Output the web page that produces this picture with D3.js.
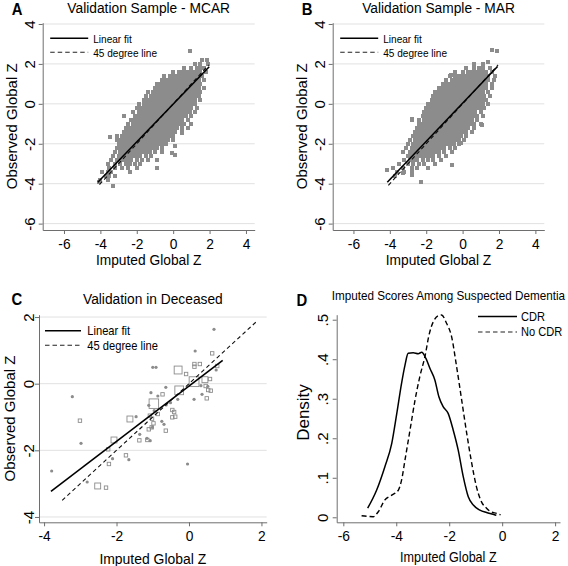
<!DOCTYPE html>
<html><head><meta charset="utf-8">
<script src="https://cdn.jsdelivr.net/npm/d3@7"></script>
<style>
body{margin:0;background:#fff}
svg{display:block}
text{font-family:"Liberation Sans",Arial,Helvetica,sans-serif;fill:#000}
</style>
</head><body>
<svg id="c" width="568" height="566"></svg>
<script>
// ---------------- DATA ----------------
const scatterXTicks = [-6,-4,-2,0,2,4];
const scatterYTicks = [-6,-4,-2,0,2,4];
const deceasedXTicks = [-4,-2,0,2];
const deceasedYTicks = [-4,-2,0,2];
const densityXTicks = [-6,-4,-2,0,2];
const densityYTicks = [0,0.1,0.2,0.3,0.4,0.5];
const densityYTickLabels = ["0",".1",".2",".3",".4",".5"];

const panelTitles = ["Validation Sample - MCAR","Validation Sample - MAR","Validation in Deceased","Imputed Scores Among Suspected Dementia"];
const panelLetters = ["A","B","C","D"];
const xTitle = "Imputed Global Z";
const yTitles = ["Observed Global Z","Observed Global Z","Observed Global Z","Density"];
const fitLegend = ["Linear fit","45 degree line"];
const densityLegend = ["CDR","No CDR"];

// Panel A (MCAR): rows of observed Z with imputed Z values
const mcarRows = [
 [2.2,[1.6,1.85]],
 [2.0,[1.2,1.5,1.9]],
 [1.8,[0.6,1.0,1.3,1.5,1.7]],
 [1.6,[0.0,0.3,0.5,0.7,0.9,1.1,1.3,1.5,1.8]],
 [1.4,[-0.5,-0.2,0.0,0.2,0.4,0.6,0.8,1.0,1.2,1.4,1.6]],
 [1.2,[-0.6,-0.4,-0.2,0.0,0.2,0.4,0.6,0.8,1.0,1.2,1.4,1.7]],
 [1.0,[-0.9,-0.7,-0.5,-0.3,-0.1,0.1,0.3,0.5,0.7,0.9,1.1,1.3,1.5]],
 [0.8,[-1.0,-0.8,-0.6,-0.4,-0.2,0.0,0.2,0.4,0.6,0.8,1.0,1.2,1.4,1.7]],
 [0.6,[-1.4,-1.1,-0.9,-0.7,-0.5,-0.3,-0.1,0.1,0.3,0.5,0.7,0.9,1.1,1.3,1.5]],
 [0.4,[-1.5,-1.2,-1.0,-0.8,-0.6,-0.4,-0.2,0.0,0.2,0.4,0.6,0.8,1.0,1.2,1.4]],
 [0.2,[-1.6,-1.4,-1.2,-1.0,-0.8,-0.6,-0.4,-0.2,0.0,0.2,0.4,0.6,0.8,1.0,1.2,1.5]],
 [0.0,[-1.9,-1.6,-1.4,-1.2,-1.0,-0.8,-0.6,-0.4,-0.2,0.0,0.2,0.4,0.6,0.8,1.0,1.2]],
 [-0.2,[-2.0,-1.8,-1.6,-1.4,-1.2,-1.0,-0.8,-0.6,-0.4,-0.2,0.0,0.2,0.4,0.6,0.8,1.0,1.3]],
 [-0.4,[-2.2,-1.9,-1.7,-1.5,-1.3,-1.1,-0.9,-0.7,-0.5,-0.3,-0.1,0.1,0.3,0.5,0.7,0.9,1.2]],
 [-0.6,[-2.7,-2.1,-1.9,-1.7,-1.5,-1.3,-1.1,-0.9,-0.7,-0.5,-0.3,-0.1,0.1,0.3,0.5,0.7,1.0]],
 [-0.8,[-2.3,-2.1,-1.9,-1.7,-1.5,-1.3,-1.1,-0.9,-0.7,-0.5,-0.3,-0.1,0.1,0.3,0.5,0.8]],
 [-1.0,[-2.5,-2.2,-2.0,-1.8,-1.6,-1.4,-1.2,-1.0,-0.8,-0.6,-0.4,-0.2,0.0,0.2,0.4,0.6,1.0]],
 [-1.2,[-2.6,-2.4,-2.2,-2.0,-1.8,-1.6,-1.4,-1.2,-1.0,-0.8,-0.6,-0.4,-0.2,0.0,0.2,0.5,0.8]],
 [-1.4,[-2.7,-2.5,-2.3,-2.1,-1.9,-1.7,-1.5,-1.3,-1.1,-0.9,-0.7,-0.5,-0.3,-0.1,0.1,0.5]],
 [-1.6,[-3.1,-2.8,-2.6,-2.4,-2.2,-2.0,-1.8,-1.6,-1.4,-1.2,-1.0,-0.8,-0.6,-0.4,-0.2,0.0]],
 [-1.8,[-3.1,-2.9,-2.7,-2.5,-2.3,-2.1,-1.9,-1.7,-1.5,-1.3,-1.1,-0.9,-0.7,-0.5,-0.3,0.0]],
 [-2.0,[-3.0,-2.8,-2.6,-2.4,-2.2,-2.0,-1.8,-1.6,-1.4,-1.2,-1.0,-0.8,-0.6,-0.4]],
 [-2.2,[-3.1,-2.9,-2.7,-2.5,-2.3,-2.1,-1.9,-1.7,-1.5,-1.3,-1.1,-0.9,-0.6]],
 [-2.4,[-3.2,-2.9,-2.7,-2.5,-2.3,-2.1,-1.9,-1.7,-1.5,-1.3,-1.0,-0.6]],
 [-2.6,[-3.3,-3.0,-2.8,-2.6,-2.4,-2.2,-2.0,-1.8,-1.5,-1.2]],
 [-2.8,[-3.4,-3.1,-2.9,-2.7,-2.5,-2.3,-2.0,-1.7,-1.4]],
 [-3.0,[-3.6,-3.2,-2.9,-2.6,-2.4,-2.1,-1.8]],
 [-3.2,[-3.5,-3.2,-2.8,-2.5,-2.0]],
 [-3.4,[-3.9,-3.6,-3.4,-2.4]],
 [-3.6,[-3.7,-3.5,-3.2]],
 [-3.8,[-4.0,-3.6]]
];
const mcarExtra = [[0.93,2.65],[-2.69,-0.63],[-3.46,-1.67],[0.48,-1.13],[0.48,-1.47],[0.11,-2.13],
 [-0.07,-2.47],[0.11,-2.55],[-0.9,-2.8],[-0.9,-3.22],[-3.28,-4.13],[-4.07,-3.93],[-2.0,-1.1]];

// Panel B (MAR)
const marRows = [
 [2.1,[1.4]],
 [2.0,[0.6,1.1]],
 [1.8,[0.2,0.6,0.9,1.1,1.5]],
 [1.6,[-0.4,0.0,0.3,0.5,0.7,0.9,1.1,1.3,1.6]],
 [1.4,[-0.7,-0.4,-0.2,0.0,0.2,0.4,0.6,0.8,1.0,1.2,1.4,1.8]],
 [1.2,[-0.9,-0.6,-0.4,-0.2,0.0,0.2,0.4,0.6,0.8,1.0,1.2,1.4,1.7]],
 [1.0,[-1.1,-0.9,-0.7,-0.5,-0.3,-0.1,0.1,0.3,0.5,0.7,0.9,1.1,1.3,1.6]],
 [0.8,[-1.3,-1.1,-0.9,-0.7,-0.5,-0.3,-0.1,0.1,0.3,0.5,0.7,0.9,1.1,1.3,1.6]],
 [0.6,[-1.5,-1.3,-1.1,-0.9,-0.7,-0.5,-0.3,-0.1,0.1,0.3,0.5,0.7,0.9,1.1,1.4]],
 [0.4,[-1.6,-1.4,-1.2,-1.0,-0.8,-0.6,-0.4,-0.2,0.0,0.2,0.4,0.6,0.8,1.0,1.2,1.5]],
 [0.2,[-1.7,-1.5,-1.3,-1.1,-0.9,-0.7,-0.5,-0.3,-0.1,0.1,0.3,0.5,0.7,0.9,1.1,1.3]],
 [0.0,[-1.9,-1.7,-1.5,-1.3,-1.1,-0.9,-0.7,-0.5,-0.3,-0.1,0.1,0.3,0.5,0.7,0.9,1.1,1.4]],
 [-0.2,[-2.0,-1.8,-1.6,-1.4,-1.2,-1.0,-0.8,-0.6,-0.4,-0.2,0.0,0.2,0.4,0.6,0.8,1.0,1.2]],
 [-0.4,[-2.1,-1.9,-1.7,-1.5,-1.3,-1.1,-0.9,-0.7,-0.5,-0.3,-0.1,0.1,0.3,0.5,0.7,1.0]],
 [-0.6,[-2.2,-2.0,-1.8,-1.6,-1.4,-1.2,-1.0,-0.8,-0.6,-0.4,-0.2,0.0,0.2,0.4,0.6,0.8,1.1]],
 [-0.8,[-2.8,-2.4,-2.1,-1.9,-1.7,-1.5,-1.3,-1.1,-0.9,-0.7,-0.5,-0.3,-0.1,0.1,0.3,0.5,0.8]],
 [-1.0,[-2.4,-2.2,-2.0,-1.8,-1.6,-1.4,-1.2,-1.0,-0.8,-0.6,-0.4,-0.2,0.0,0.2,0.4,0.6,1.0]],
 [-1.2,[-2.5,-2.3,-2.1,-1.9,-1.7,-1.5,-1.3,-1.1,-0.9,-0.7,-0.5,-0.3,-0.1,0.1,0.3,0.6]],
 [-1.4,[-2.6,-2.4,-2.2,-2.0,-1.8,-1.6,-1.4,-1.2,-1.0,-0.8,-0.6,-0.4,-0.2,0.0,0.2,0.5]],
 [-1.6,[-2.7,-2.5,-2.3,-2.1,-1.9,-1.7,-1.5,-1.3,-1.1,-0.9,-0.7,-0.5,-0.3,-0.1,0.2]],
 [-1.8,[-2.9,-2.6,-2.4,-2.2,-2.0,-1.8,-1.6,-1.4,-1.2,-1.0,-0.8,-0.6,-0.4,-0.2,0.1]],
 [-2.0,[-3.0,-2.7,-2.5,-2.3,-2.1,-1.9,-1.7,-1.5,-1.3,-1.1,-0.9,-0.7,-0.5,-0.2]],
 [-2.2,[-3.1,-2.8,-2.6,-2.4,-2.2,-2.0,-1.8,-1.6,-1.4,-1.2,-1.0,-0.7,-0.4]],
 [-2.4,[-3.3,-2.9,-2.7,-2.5,-2.3,-2.1,-1.9,-1.7,-1.5,-1.3,-1.0,-0.6]],
 [-2.6,[-3.0,-2.8,-2.6,-2.4,-2.2,-2.0,-1.8,-1.6,-1.3,-0.9]],
 [-2.8,[-3.2,-2.9,-2.7,-2.5,-2.2,-1.9,-1.6,-1.2]],
 [-3.0,[-3.5,-3.0,-2.7,-2.4,-2.1,-1.5]],
 [-3.2,[-3.8,-3.3,-2.8,-2.5,-1.9]],
 [-3.4,[-3.6,-3.2,-2.8]],
 [-3.6,[-3.7]]
];
const marExtra = [[1.6,2.7],[1.9,2.65],[-4.17,-3.33],[-2.31,-3.93],[-0.57,-3.08],[1.05,-1.05],
 [-2.77,-0.75],[-0.66,1.45],[-2.8,-3.55],[-3.26,-3.47],[-0.11,-1.97]];

// Fitted lines (endpoints) and 45-degree line ranges
const mcarFit = [[-4.14,-3.93],[1.98,1.86]];
const mcarDiagRange = [-4.05,1.95];
const marFit = [[-4.14,-3.93],[1.92,1.87]];
const marDiagRange = [-4.08,1.95];
const deceasedFit = [[-3.81,-3.23],[0.93,0.70]];
const deceasedDiagRange = [-3.5,1.88];

// Panel C: weighted hollow squares [imputed, observed, weight] and small dots
const deceasedHollow = [[-3.01,-1.11,1],[-2.52,-3.07,2],[-2.29,-3.12,1],[-2.23,-1.97,1],[-2.21,-2.41,1],
 [-2.07,-1.69,2],[-1.74,-2.15,1],[-1.63,-1.06,2],[-1.37,-1.70,1],[-1.15,-1.69,1],[-1.11,-1.37,1],
 [-1.03,-1.31,1],[-0.98,-1.19,1],[-1.08,-0.96,1],[-1.02,-1.05,1],[-0.97,-0.60,4],[-0.86,-0.91,1],
 [-0.73,-0.32,1],[-0.64,-1.41,1],[-0.46,-0.79,1],[-0.41,-0.85,1],[-0.38,-0.99,1],[-0.46,-1.01,1],
 [-0.30,0.41,3],[-0.27,-0.20,3.5],[-0.08,0.29,1],[0.14,0.06,4.2],[0.15,0.59,1],[0.15,0.51,1],
 [0.30,0.59,1],[0.44,0.12,2],[0.58,0.14,1],[0.46,-0.07,1],[0.53,-0.19,1],[0.60,-0.21,1],
 [0.49,-0.44,1],[0.64,0.91,1],[0.78,0.53,1]];
const deceasedDots = [[0.69,1.63],[0.17,0.98],[-1.00,0.49],[-0.91,0.49],[-3.22,-0.39],[-2.98,-1.79],
 [-3.79,-2.62],[-2.11,-2.25],[-2.81,-2.95],[-1.66,-2.28],[-1.46,-0.99],[-1.36,-1.52],[-1.07,-1.71],
 [-1.05,-0.27],[-1.11,-0.65],[-0.86,-0.37],[-0.64,-0.11],[0.33,-0.06],[0.36,-0.32],[0.14,-0.47],
 [-0.31,-0.47],[0.75,0.41],[-0.63,-0.64],[-0.51,-0.57],[-0.96,-0.81],[-0.75,-1.13],[-0.69,-1.22],
 [-1.16,-1.64],[-0.04,-2.41],[0.52,-0.08],[-1.01,-1.31]];

// Panel D: kernel densities [imputed Z, density]
const cdrDensity = [[-5.08,0.023],[-4.74,0.069],[-4.43,0.128],[-4.17,0.187],[-3.98,0.263],[-3.80,0.339],
 [-3.67,0.385],[-3.55,0.415],[-3.36,0.4165],[-3.17,0.414],[-3.04,0.4175],[-2.88,0.402],[-2.73,0.377],
 [-2.54,0.347],[-2.39,0.305],[-2.23,0.280],[-2.04,0.263],[-1.85,0.221],[-1.66,0.170],[-1.47,0.103],
 [-1.28,0.052],[-1.09,0.031],[-0.84,0.018],[-0.59,0.012],[-0.34,0.0075],[-0.22,0.005]];
const noCdrDensity = [[-5.31,0.004],[-4.87,0.0015],[-4.68,0.014],[-4.43,0.044],[-4.17,0.056],[-3.92,0.069],
 [-3.80,0.094],[-3.67,0.145],[-3.48,0.221],[-3.29,0.297],[-3.11,0.356],[-2.92,0.406],[-2.75,0.465],
 [-2.60,0.495],[-2.42,0.510],[-2.29,0.512],[-2.10,0.491],[-1.91,0.457],[-1.72,0.381],[-1.53,0.297],
 [-1.34,0.213],[-1.15,0.137],[-0.97,0.077],[-0.78,0.039],[-0.59,0.023],[-0.40,0.013],[-0.21,0.010],[-0.06,0.006]];

// ---------------- LAYOUT ----------------
const panels = [
 {x0:42.7, x1:254.7, y0:22.7, y1:230, xd:[-7.17,4.48], yd:[-6.32,4.065]},
 {x0:332.7, x1:544.3, y0:22.7, y1:230, xd:[-7.14,4.49], yd:[-6.32,4.065]},
 {x0:39, x1:266.7, y0:314.7, y1:522.3, xd:[-4.14,2.145], yd:[-4.16,2.07]},
 {x0:336.7, x1:560, y0:314.7, y1:522.3, xd:[-6.25,2.185], yd:[-0.0127,0.5127]}
];
const AX = "#6e6e6e", GRID = "#e1e1e1", MARK = "#8c8c8c";
const svg = d3.select("#c");

function scalesFor(p){
  return {x:d3.scaleLinear().domain(p.xd).range([p.x0,p.x1]),
          y:d3.scaleLinear().domain(p.yd).range([p.y1,p.y0])};
}
function htext(x,y,str,size,anchor,weight){
  return svg.append("text").attr("transform",`translate(${x},${y}) scale(0.9,1)`)
    .attr("font-size",size).attr("text-anchor",anchor||"middle")
    .attr("font-weight",weight||"normal").text(str);
}
function vtext(x,y,str,size){
  return svg.append("text").attr("transform",`translate(${x},${y}) rotate(-90)`)
    .attr("font-size",size).attr("text-anchor","middle").text(str);
}
function grid(p,s,ticks){
  svg.append("g").selectAll("line").data(ticks).join("line")
    .attr("x1",p.x0).attr("x2",p.x1).attr("y1",d=>s.y(d)).attr("y2",d=>s.y(d))
    .attr("stroke",GRID).attr("stroke-width",1);
}
function axes(p,s,xt,yt,yfmt,ylabOff){
  const gx = svg.append("g").attr("transform",`translate(0,${p.y1})`)
    .call(d3.axisBottom(s.x).tickValues(xt).tickSize(4).tickSizeOuter(0).tickFormat(d=>String(d)));
  gx.select(".domain").attr("stroke",AX);
  gx.selectAll(".tick line").attr("stroke",AX);
  gx.selectAll(".tick text").attr("y",0).attr("dy",0)
    .attr("transform","translate(0,18.6) scale(0.92,1)").attr("font-size",15);
  const gy = svg.append("g").attr("transform",`translate(${p.x0},0)`)
    .call(d3.axisLeft(s.y).tickValues(yt).tickSize(4).tickSizeOuter(0).tickFormat(yfmt));
  gy.select(".domain").attr("stroke",AX);
  gy.selectAll(".tick line").attr("stroke",AX);
  gy.selectAll(".tick text").attr("x",0).attr("dy",0).attr("text-anchor","middle")
    .attr("transform",`translate(${ylabOff},0) rotate(-90)`).attr("font-size",15);
}
function legend(x1,x2,tx,y1,y2,labels,size){
  svg.append("line").attr("x1",x1).attr("x2",x2).attr("y1",y1).attr("y2",y1)
    .attr("stroke","#000").attr("stroke-width",1.6);
  svg.append("line").attr("x1",x1).attr("x2",x2).attr("y1",y2).attr("y2",y2)
    .attr("stroke","#222").attr("stroke-width",1.1).attr("stroke-dasharray","4.5,3");
  htext(tx,y1+4.2,labels[0],size,"start");
  htext(tx,y2+4.2,labels[1],size,"start");
}
const line = (s)=>d3.line().x(d=>s.x(d[0])).y(d=>s.y(d[1]));

// ---------------- PANELS A & B ----------------
[[mcarRows,mcarExtra,mcarFit,mcarDiagRange],[marRows,marExtra,marFit,marDiagRange]].forEach((cfg,i)=>{
  const p = panels[i], s = scalesFor(p);
  const [rows,extra,fit,diag] = cfg;
  const pts = rows.flatMap(([y,xs])=>xs.map(x=>[x,y])).concat(extra);
  grid(p,s,scatterYTicks);
  svg.append("g").attr("shape-rendering","crispEdges").selectAll("rect").data(pts).join("rect")
    .attr("x",d=>s.x(d[0])-2).attr("y",d=>s.y(d[1])-2).attr("width",4).attr("height",4)
    .attr("fill",MARK);
  svg.append("path").datum(diag.map(v=>[v,v])).attr("d",line(s))
    .attr("fill","none").attr("stroke","#111").attr("stroke-width",1.1).attr("stroke-dasharray","4,3");
  svg.append("path").datum(fit).attr("d",line(s))
    .attr("fill","none").attr("stroke","#000").attr("stroke-width",1.6);
  axes(p,s,scatterXTicks,scatterYTicks,d=>String(d),-7.5);
  const lx = p.x0 + 7.5;
  legend(lx,lx+38,lx+43,38.3,52.3,fitLegend,11.2);
  htext((p.x0+p.x1)/2,13,panelTitles[i],15.3);
  htext(p.x0-31,15,panelLetters[i],16.5,"start","bold");
  htext((p.x0+p.x1)/2,264.5,xTitle,15.3);
  vtext(p.x0-25.5,(p.y0+p.y1)/2,yTitles[i],15);
});

// ---------------- PANEL C ----------------
(()=>{
  const p = panels[2], s = scalesFor(p);
  grid(p,s,deceasedYTicks);
  const side = d3.scaleSqrt().domain([1,4.2]).range([3.4,9.8]);
  svg.append("g").selectAll("rect").data(deceasedHollow).join("rect")
    .attr("x",d=>s.x(d[0])-side(d[2])/2).attr("y",d=>s.y(d[1])-side(d[2])/2)
    .attr("width",d=>side(d[2])).attr("height",d=>side(d[2]))
    .attr("fill","none").attr("stroke",MARK).attr("stroke-width",0.9);
  svg.append("g").selectAll("circle").data(deceasedDots).join("circle")
    .attr("cx",d=>s.x(d[0])).attr("cy",d=>s.y(d[1])).attr("r",1.6).attr("fill",MARK);
  svg.append("path").datum(deceasedDiagRange.map(v=>[v,v])).attr("d",line(s))
    .attr("fill","none").attr("stroke","#111").attr("stroke-width",1.1).attr("stroke-dasharray","4,3");
  svg.append("path").datum(deceasedFit).attr("d",line(s))
    .attr("fill","none").attr("stroke","#000").attr("stroke-width",1.6);
  axes(p,s,deceasedXTicks,deceasedYTicks,d=>String(d),-5.5);
  legend(45,81,87.3,330.7,345.3,fitLegend,12.4);
  htext((p.x0+p.x1)/2,303.7,panelTitles[2],15.3);
  htext(11.5,305,panelLetters[2],16.5,"start","bold");
  htext((p.x0+p.x1)/2,563.5,xTitle,15.5);
  vtext(15,(p.y0+p.y1)/2,yTitles[2],15);
})();

// ---------------- PANEL D ----------------
(()=>{
  const p = panels[3], s = scalesFor(p);
  const curve = d3.line().x(d=>s.x(d[0])).y(d=>s.y(d[1])).curve(d3.curveMonotoneX);
  svg.append("path").datum(noCdrDensity).attr("d",curve)
    .attr("fill","none").attr("stroke","#000").attr("stroke-width",1.4).attr("stroke-dasharray","5,3");
  svg.append("path").datum(cdrDensity).attr("d",curve)
    .attr("fill","none").attr("stroke","#000").attr("stroke-width",1.5);
  axes(p,s,densityXTicks,densityYTicks,(d,i)=>densityYTickLabels[i],-8.5);
  legend(478,517,521,316.5,332,densityLegend,12.3);
  htext((p.x0+p.x1)/2,300,panelTitles[3],13);
  htext(296.5,305.5,panelLetters[3],16.5,"start","bold");
  htext((p.x0+p.x1)/2,562,xTitle,14);
  vtext(308.5,(p.y0+p.y1)/2-6,yTitles[3],17);
})();
</script>
</body></html>
